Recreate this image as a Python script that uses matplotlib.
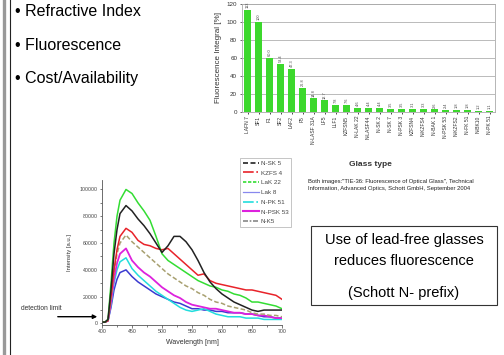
import numpy as np
import matplotlib
matplotlib.use("Agg")
from matplotlib import pyplot as plt
from matplotlib.lines import Line2D
from matplotlib.patches import Rectangle

plt.rcParams['font.family'] = ['Liberation Sans', 'DejaVu Sans']

# bar chart data (fluorescence integral, %)
glass = ['LAFN 7', 'SF1', 'F1', 'SF2', 'LAF2', 'F5', 'N-LASF 31A', 'LF5', 'LLF1', 'KZFSN5',
         'N-LAK 22', 'N-LASF44', 'N-SK 2', 'N-SK 7', 'N-PSK 3', 'KZFSN4', 'N-KZFS4',
         'N-BAK 1', 'N-PSK 53', 'N-KZFS2', 'N-FK 51', 'N-BK10', 'N-PK 51']
fluor = [113, 100, 60.0, 53.4, 47.3, 26.8, 14.8, 12.7, 7.8, 7.6,
         4.6, 4.4, 4.4, 3.5, 3.5, 3.1, 3.3, 2.6, 2.4, 1.8, 1.8, 1.2, 1.1]

# spectra (intensity in thousands a.u.)
wl = [400, 405, 410, 415, 420, 425, 430, 440, 450, 460, 470, 480, 490, 500, 510, 520, 530,
      540, 550, 560, 570, 580, 590, 600, 610, 620, 630, 640, 650, 660, 670, 680, 690, 700]
nsk5 = [1, 1, 3, 25, 52, 70, 82, 88, 84, 78, 73, 67, 60, 53, 58, 65, 65, 61, 55, 47, 38, 31,
        26, 22, 19, 16, 14, 12, 10, 9, 10, 10, 10, 10]
kzfs4 = [1, 1, 2, 20, 40, 55, 65, 71, 68, 62, 59, 58, 56, 55, 56, 52, 48, 44, 40, 36, 37, 32,
         30, 29, 28, 27, 26, 25, 25, 24, 23, 22, 21, 18]
lak22 = [1, 1, 3, 30, 60, 80, 92, 100, 97, 90, 84, 77, 65, 52, 47, 44, 41, 38, 35, 32, 30, 28,
         27, 25, 24, 22, 21, 19, 16, 16, 15, 14, 13, 11]
lak8 = [1, 1, 2, 12, 25, 33, 38, 40, 35, 31, 28, 25, 22, 20, 18, 16, 15, 13, 11, 11, 10, 10,
        9, 9, 8, 8, 8, 7, 7, 6, 5, 5, 4, 4]
npk51 = [1, 1, 2, 14, 30, 40, 46, 49, 41, 36, 32, 28, 24, 21, 18, 15, 12, 10, 9, 10, 11, 9,
         7, 6, 5, 5, 5, 4, 4, 4, 3, 3, 3, 3]
npsk53 = [1, 1, 2, 16, 33, 45, 52, 56, 47, 42, 38, 35, 31, 27, 24, 21, 19, 16, 14, 13, 12, 11,
          11, 10, 9, 8, 8, 7, 7, 6, 6, 5, 4, 4]
nk5 = [1, 1, 2, 18, 38, 52, 60, 66, 61, 57, 53, 49, 45, 41, 37, 34, 31, 28, 26, 23, 21, 18,
       16, 15, 13, 12, 11, 10, 8, 7, 7, 6, 6, 5]

bullets = ['• Refractive Index', '• Fluorescence', '• Cost/Availability']

W, H = 504.0, 355.0
fig = plt.figure(figsize=(5.04, 3.55), dpi=100)

def fx(px):
	return px / W

def fy(py):
	return 1 - py / H

# slide border on the left
fig.add_artist(Line2D([fx(4), fx(4)], [0, 1], transform=fig.transFigure, color='#999999', lw=2.4))
fig.add_artist(Line2D([fx(9.5), fx(9.5)], [0, 1], transform=fig.transFigure, color='#222222', lw=0.8))

# bullets
for i, b in enumerate(bullets):
	fig.text(fx(15), fy(12 + 33 * i), b, fontsize=11.5, va='center', ha='left')

# ---- bar chart ----
ax1 = fig.add_axes([fx(242), fy(111.7), fx(495) - fx(242), (111.7 - 4) / H])
x = np.arange(len(glass))
ax1.bar(x, fluor, width=0.55, color='#3cd82c', zorder=3)
ax1.set_xlim(-0.5, len(glass) - 0.5)
ax1.set_ylim(0, 120)
ax1.set_yticks(range(0, 121, 20))
ax1.yaxis.grid(True, color='#b0b0b0', lw=0.6, zorder=0)
ax1.set_xticks(x)
ax1.set_xticklabels(glass, rotation=90, fontsize=3.6, color='#333333')
ax1.tick_params(axis='y', labelsize=4.5, length=1.5, width=0.5, colors='#333333', pad=2)
ax1.tick_params(axis='x', length=1.5, width=0.5, pad=1.5)
for s in ax1.spines.values():
	s.set_color('#aaaaaa')
	s.set_linewidth(0.6)
ax1.set_ylabel('Fluorescence Integral [%]', fontsize=5.8, labelpad=3, color='#333333')
for i, v in enumerate(fluor):
	lab = '%d' % v if v >= 100 else '%.1f' % v
	ax1.text(i, v + 2, lab, rotation=90, ha='center', va='bottom', fontsize=2.8, color='#444444')

fig.text(fx(370), fy(164), 'Glass type', fontsize=6, fontweight='bold', ha='center', va='center', color='#333333')
fig.text(fx(308), fy(182), 'Both images:"TIE-36: Fluorescence of Optical Glass", Technical',
         fontsize=4.2, ha='left', va='center', color='#222222')
fig.text(fx(308), fy(189), 'Information, Advanced Optics, Schott GmbH, September 2004',
         fontsize=4.2, ha='left', va='center', color='#222222')

# ---- spectra ----
ax2 = fig.add_axes([fx(102), fy(324.8), fx(282) - fx(102), (324.8 - 180.1) / H])
wl_a = np.array(wl)
ax2.plot(wl_a, np.array(lak8) * 1000, color='#3a3ad0', lw=1.1)
ax2.plot(wl_a, np.array(npk51) * 1000, color='#22dddd', lw=1.1)
ax2.plot(wl_a, np.array(npsk53) * 1000, color='#dd22dd', lw=1.3)
ax2.plot(wl_a, np.array(nk5) * 1000, color='#a8a070', lw=1.1, ls=(0, (3, 1.5)))
ax2.plot(wl_a, np.array(kzfs4) * 1000, color='#e8232a', lw=1.1)
ax2.plot(wl_a, np.array(lak22) * 1000, color='#33dd33', lw=1.1)
ax2.plot(wl_a, np.array(nsk5) * 1000, color='#222222', lw=1.1)
ax2.set_xlim(400, 700)
ax2.set_ylim(-1000, 107000)
ax2.set_xticks(range(400, 701, 50))
ax2.set_xticks(range(425, 700, 50), minor=True)
ax2.set_yticks(range(0, 100001, 20000))
ax2.set_yticks(range(10000, 100001, 20000), minor=True)
ax2.spines['top'].set_visible(False)
ax2.spines['right'].set_visible(False)
for s in ['left', 'bottom']:
	ax2.spines[s].set_color('#555555')
	ax2.spines[s].set_linewidth(0.6)
ax2.tick_params(which='both', labelsize=3.8, length=1.8, width=0.5, colors='#444444', pad=1.5)
ax2.tick_params(which='minor', length=1.2)
ax2.set_xlabel('Wavelength [nm]', fontsize=5, labelpad=3, color='#333333')
ax2.set_ylabel('Intensity [a.u.]', fontsize=4.2, labelpad=5, color='#333333')

# detection limit arrow
fig.text(fx(21), fy(308.3), 'detection limit', fontsize=4.8, ha='left', va='center', color='#333333')
ax2.annotate('', xy=(fx(100), fy(316.7)), xycoords='figure fraction',
             xytext=(fx(55), fy(316.7)), textcoords='figure fraction',
             arrowprops=dict(arrowstyle='-|>', color='k', lw=1.0, mutation_scale=6))

# legend for spectra
handles = [Line2D([], [], color='#222222', lw=1.2, ls=(0, (3, 1.5))),
           Line2D([], [], color='#e8232a', lw=1.2, ls='-.'),
           Line2D([], [], color='#33dd33', lw=1.2, ls=(0, (2, 1))),
           Line2D([], [], color='#8888ee', lw=0.9),
           Line2D([], [], color='#22dddd', lw=1.2, ls='-.'),
           Line2D([], [], color='#dd22dd', lw=1.5),
           Line2D([], [], color='#888888', lw=1.2, ls=(0, (3, 1, 1, 1)))]
names = ['N-SK 5', 'KZFS 4', 'LaK 22', 'Lak 8', 'N-PK 51', 'N-PSK 53', 'N-K5']
leg = fig.legend(handles, names, loc='upper left', bbox_to_anchor=(fx(240), fy(158)),
                 fontsize=4.5, handlelength=2.6, labelspacing=0.7, handletextpad=0.3,
                 borderpad=0.4, frameon=True, fancybox=False, borderaxespad=0)
leg.get_frame().set_edgecolor('#aaaaaa')
leg.get_frame().set_linewidth(0.6)
for t in leg.get_texts():
	t.set_color('#444444')

# text box
fig.add_artist(Rectangle((fx(311), fy(305)), fx(497) - fx(311), (305 - 226) / H,
                         transform=fig.transFigure, fill=False, ec='#333333', lw=0.8))
fig.text(fx(404), fy(240), 'Use of lead-free glasses', fontsize=10.5, ha='center', va='center')
fig.text(fx(404), fy(261), 'reduces fluorescence', fontsize=10.5, ha='center', va='center')
fig.text(fx(404), fy(293), '(Schott N- prefix)', fontsize=10.5, ha='center', va='center')

fig.savefig('out.png', dpi=100)
